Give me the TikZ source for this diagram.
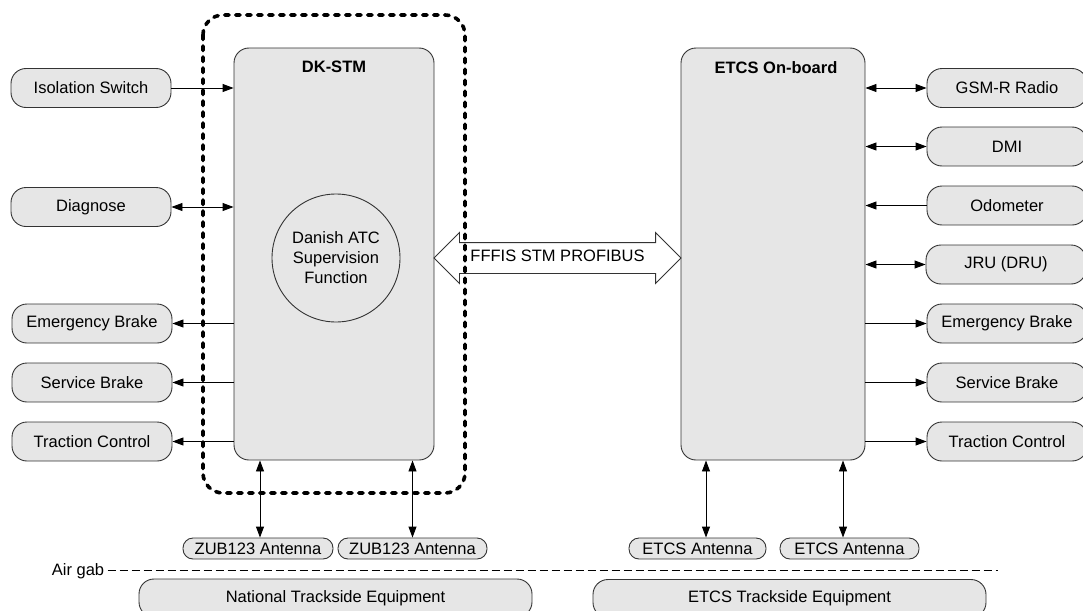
\documentclass[tikz,border=0pt]{standalone}
\usepackage{fontspec}
\setmainfont{Liberation Sans}
\usetikzlibrary{arrows.meta,positioning,shapes.arrows}
\definecolor{boxgray}{HTML}{E6E6E6}
\definecolor{edgegray}{HTML}{333333}
\begin{document}
\begin{tikzpicture}[x=1pt,y=-1pt,
   font=\fontsize{16.5}{20}\selectfont,
   >={Triangle[length=11pt,width=8pt]},
   unit/.style={draw=edgegray,fill=boxgray,rounded corners=15pt,minimum width=160pt,minimum height=39pt,inner sep=0pt,line width=0.9pt},
   antenna/.style={draw=edgegray,fill=boxgray,rounded corners=10pt,minimum height=21pt,inner sep=0pt,line width=0.9pt},
   block/.style={draw=edgegray,fill=boxgray,rounded corners=15pt,minimum height=412pt,inner sep=0pt,line width=0.9pt},
   trackside/.style={draw=edgegray,fill=boxgray,rounded corners=15pt,minimum width=393pt,minimum height=38pt,inner sep=0pt,line width=0.9pt},
   boxtitle/.style={font=\fontsize{16.5}{20}\selectfont\bfseries,inner sep=0pt},
   link/.style={line width=0.9pt},
   stmframe/.style={line width=3.6pt,line cap=round,dash pattern=on 4.5pt off 6.5pt,rounded corners=20pt}]
   \useasboundingbox (0,0) rectangle (1083,610);
   \draw (334,254) node[block,minimum width=200pt] (stm) {};
   \draw (773,254) node[block,minimum width=184pt] (etcs) {};
   \node[boxtitle,below=13pt of stm.north] (stmtitle) {DK-STM};
   \node[boxtitle,below=14pt of etcs.north,xshift=3pt] (etcstitle) {ETCS On-board};
   \draw (336,258) node[draw=edgegray,fill=boxgray,circle,minimum size=128pt,inner sep=0pt,align=center,line width=0.9pt] (atc) {Danish ATC\\Supervision\\Function};
   \draw (91,88) node[unit] (iso) {Isolation Switch};
   \draw (91,207) node[unit] (diag) {Diagnose};
   \draw (92,323.5) node[unit] (lemb) {Emergency Brake};
   \draw (92,382.5) node[unit] (lsb) {Service Brake};
   \draw (92,441.5) node[unit] (ltc) {Traction Control};
   \draw (1007,88) node[unit] (gsm) {GSM-R Radio};
   \draw (1007,146.5) node[unit] (dmi) {DMI};
   \draw (1007,205.5) node[unit] (odo) {Odometer};
   \draw (1006,264.5) node[unit] (jru) {JRU (DRU)};
   \draw (1007,323.5) node[unit] (remb) {Emergency Brake};
   \draw (1007,382.5) node[unit] (rsb) {Service Brake};
   \draw (1007,441.5) node[unit] (rtc) {Traction Control};
   \draw[link,->] (iso) -- (iso -| stm.west);
   \draw[link,<->] (diag) -- (diag -| stm.west);
   \draw[link,->] (lemb -| stm.west) -- (lemb);
   \draw[link,->] (lsb -| stm.west) -- (lsb);
   \draw[link,->] (ltc -| stm.west) -- (ltc);
   \draw[link,<->] (gsm -| etcs.east) -- (gsm);
   \draw[link,<->] (dmi -| etcs.east) -- (dmi);
   \draw[link,->] (odo) -- (odo -| etcs.east);
   \draw[link,<->] (jru -| etcs.east) -- (jru);
   \draw[link,->] (remb -| etcs.east) -- (remb);
   \draw[link,->] (rsb -| etcs.east) -- (rsb);
   \draw[link,->] (rtc -| etcs.east) -- (rtc);
   \draw (258,548.5) node[antenna,minimum width=150pt] (zub1) {ZUB123 Antenna};
   \draw (412.5,548.5) node[antenna,minimum width=149pt] (zub2) {ZUB123 Antenna};
   \draw (697.5,548.5) node[antenna,minimum width=137pt] (eant1) {ETCS Antenna};
   \draw (849.5,548.5) node[antenna,minimum width=139pt] (eant2) {ETCS Antenna};
   \draw[link,<->] ([xshift=2pt]zub1.north) -- ([xshift=2pt]zub1.north |- stm.south);
   \draw[link,<->] (zub2.north) -- (zub2.north |- stm.south);
   \draw[link,<->] ([xshift=8.5pt]eant1.north) -- ([xshift=8.5pt]eant1.north |- etcs.south);
   \draw[link,<->] ([xshift=-6.5pt]eant2.north) -- ([xshift=-6.5pt]eant2.north |- etcs.south);
   \draw (78,571) node (airgab) {Air gab};
   \coordinate (gabend) at (998,570);
   \draw[link,dash pattern=on 8pt off 4pt] (airgab.east |- gabend) -- (gabend);
   \draw (335.5,598) node[trackside] (ntrack) {National Trackside Equipment};
   \draw (789.5,598.5) node[trackside] (etrack) {ETCS Trackside Equipment};
   \draw (557.5,258) node[draw=edgegray,fill=white,double arrow,double arrow head extend=10pt,minimum height=247pt,minimum width=50pt,inner sep=0pt,inner ysep=7.5pt,text height=11pt,text depth=4pt,line width=0.9pt] (bus) {FFFIS STM PROFIBUS};
   \draw[stmframe] (203,15) rectangle (465,493);
\end{tikzpicture}
\end{document}
